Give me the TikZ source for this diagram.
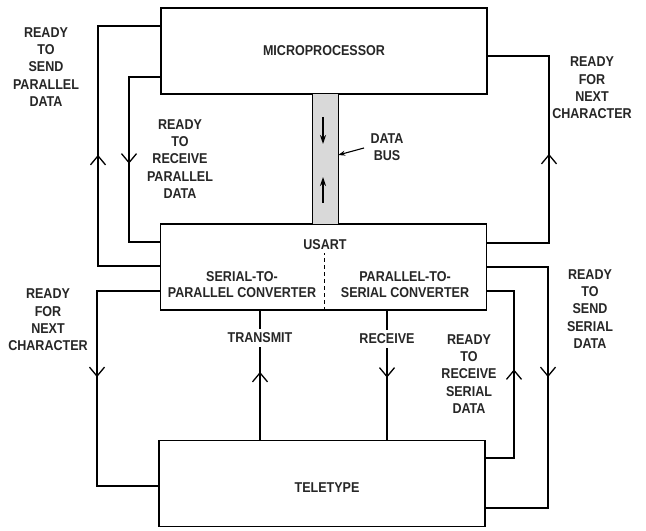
\documentclass[tikz,border=0pt]{standalone}
\usepackage{fontspec}
\setmainfont[FakeStretch=0.88]{Liberation Sans}
\usetikzlibrary{arrows.meta,decorations.markings,calc}
\begin{document}
\begin{tikzpicture}[x=1bp,y=-1bp,
  every node/.style={font=\bfseries\fontsize{14.3}{17.5}\selectfont, text=black!85, inner sep=0pt},
  box/.style={draw, line width=1.3bp, minimum width=326bp, minimum height=86bp},
  lbl/.style={align=center},
  conv/.style={align=center, font=\bfseries\fontsize{14.3}{16}\selectfont},
  conn/.style={line width=1.3bp},
  chev/.style={postaction={decorate,decoration={markings,mark=at position #1 with {\arrow{Straight Barb[length=9bp,width=15bp,line width=1.3bp]}}}}},
  gaplbl/.style={fill=white, inner xsep=1bp, inner ysep=4bp},
  busarrow/.style={line width=1.4bp, -{Stealth[length=9bp,width=6bp]}},
]
\fill[white] (0,0) rectangle (646,531);
\useasboundingbox (0,0) rectangle (646,531);

% boxes
\node[box] (mp) at (324,51) {MICROPROCESSOR};
\node[box] (usart) at (323.5,267) {};
\node[box] (tty) at (322,483.5) {};
\node (usartlbl) at (325,245) {USART};
\node[conv] (s2p) at (242,285) {SERIAL-TO-\\PARALLEL CONVERTER};
\node[conv] (p2s) at (405,285) {PARALLEL-TO-\\SERIAL CONVERTER};
\node (ttylbl) at (327,488) {TELETYPE};
\draw[line width=0.8bp, dash pattern=on 4bp off 3bp] (usart.south -| 324,0) -- (324,253);

% data bus
\node[fill=gray!30, minimum width=25bp, minimum height=130bp] (bus) at (325.5,159) {};
\draw[conn] (bus.north west) -- (bus.south west);
\draw[conn] (bus.north east) -- (bus.south east);
\draw[busarrow] (323,117) -- (323,144);
\draw[busarrow] (323,203) -- (323,177);
\node[lbl] (dbl) at (387,147) {DATA\\BUS};
\draw[line width=1.1bp,-{Stealth[length=7bp,width=5bp]}] (364,148) -- (bus.east |- 0,155);

% upper left connectors
\draw[conn, chev=173bp] (usart.west |- 0,266) -- (98,266) -- (98,26) -- (mp.west |- 0,26);
\node[lbl] (rsp) at (46,67) {READY\\TO\\SEND\\PARALLEL\\DATA};
\draw[conn, chev=118bp] (mp.west |- 0,77) -- (129,77) -- (129,242) -- (usart.west |- 0,242);
\node[lbl] (rrp) at (180,159) {READY\\TO\\RECEIVE\\PARALLEL\\DATA};

% upper right connector
\draw[conn, chev=151bp] (usart.east |- 0,243) -- (549,243) -- (549,56) -- (mp.east |- 0,56);
\node[lbl] (rnc1) at (592,88) {READY\\FOR\\NEXT\\CHARACTER};

% lower left connector
\draw[conn, chev=149bp] (usart.west |- 0,291) -- (97,291) -- (97,486) -- (tty.west |- 0,486);
\node[lbl] (rnc2) at (48,320) {READY\\FOR\\NEXT\\CHARACTER};

% transmit / receive
\draw[conn, chev=68bp] (tty.north -| 260,0) -- (usart.south -| 260,0);
\node[gaplbl] (tx) at (260,338) {TRANSMIT};
\draw[conn, chev=67bp] (usart.south -| 387,0) -- (tty.north -| 387,0);
\node[gaplbl] (rx) at (387,339) {RECEIVE};

% lower right connectors
\draw[conn, chev=117bp] (tty.east |- 0,458) -- (514,458) -- (514,291) -- (usart.east |- 0,291);
\node[lbl] (rrs) at (469,374) {READY\\TO\\RECEIVE\\SERIAL\\DATA};
\draw[conn, chev=171bp] (usart.east |- 0,267) -- (548,267) -- (548,508) -- (tty.east |- 0,508);
\node[lbl] (rss) at (590,309) {READY\\TO\\SEND\\SERIAL\\DATA};
\end{tikzpicture}
\end{document}
